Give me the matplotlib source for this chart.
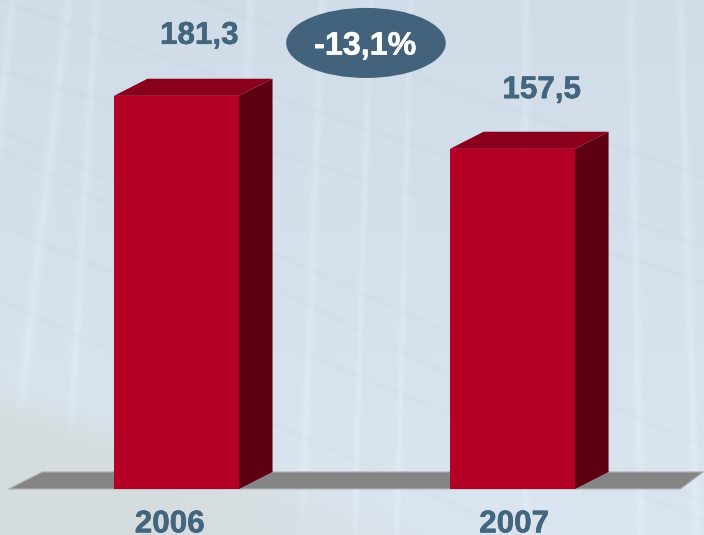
import numpy as np
import matplotlib
matplotlib.use("Agg")
import matplotlib.pyplot as plt
from matplotlib.patches import Polygon, Ellipse
import matplotlib.patheffects as pe

years = ["2006", "2007"]
values = [181.3, 156.85]      # bar heights as drawn, second one sits a bit under its label
value_labels = ["181,3", "157,5"]
change_label = "-13,1%"

plt.rcParams['font.family'] = ['Liberation Sans', 'DejaVu Sans']
plt.rcParams['text.hinting'] = 'no_hinting'

BLUE = '#43657e'
FRONT = '#b50026'
TOP = '#8a001c'
SIDE = '#5c0012'
FLOOR = '#858585'

W, H = 704, 535
fig = plt.figure(figsize=(W/100, H/100), dpi=100)

# background picture: soft bands, pale window lines, grey corner
bg = fig.add_axes([0, 0, 1, 1], zorder=0)
yy, xx = np.mgrid[0:H, 0:W].astype(float)
img = np.zeros((H, W, 3))
img[..., 0] = 208 + 11*yy/H
img[..., 1] = 220 + 9*yy/H
img[..., 2] = 232 + 7*yy/H

pale = [(12, -0.10, 4), (68, -0.118, 5), (96, -0.06, 4), (322, -0.04, 4), (370, -0.03, 3),
        (410, -0.025, 3), (250, -0.04, 4), (630, 0.02, 4), (680, 0.03, 4), (525, 0.0, 4)]
for x0, k, w in pale:
    img += (6*np.exp(-((xx - x0 - k*yy)/w)**2))[..., None]

dark = [(70, 0.3), (130, 0.45), (150, 0.5), (225, 0.42), (300, 0.45), (0, 0.35), (-70, 0.35)]
for y0, k in dark:
    img -= (2.5*np.exp(-((yy - y0 - k*xx)/3)**2))[..., None]

corner = 1/(1 + np.exp(-(yy - 398 - 0.32*xx)/9))
corner *= 1/(1 + np.exp((xx - 330)/70))
img = img*(1 - corner[..., None]) + np.array([213, 220, 222])*corner[..., None]
bg.imshow(np.clip(img, 0, 255).astype(np.uint8), aspect='auto', extent=[0, W, H, 0])
bg.axis('off')

ax = fig.add_axes([0, 0, 1, 1], zorder=1)
ax.patch.set_alpha(0)
ax.set_xlim(-0.525, 1.57)
ax.set_ylim(-21.2, 225.5)
ax.axis('off')

x = np.arange(len(years))
bar_w = 0.372
dx = 0.1
dy = 7.9
bold = dict(color=BLUE, fontsize=22.6, fontweight='bold', ha='center', va='baseline',
            path_effects=[pe.withStroke(linewidth=0.4, foreground=BLUE)])

# grey floor under the bars
floor_l, floor_r = -0.5, 1.5
ax.add_patch(Polygon([(floor_l, 0), (floor_r, 0), (floor_r+0.0685, dy), (floor_l+dx, dy)],
                     facecolor=FLOOR, edgecolor='#b4b8bb', linewidth=0.8, zorder=1))

bars = ax.bar(x, values, bar_w, color=FRONT, zorder=3)
for b, v in zip(bars, values):
    l = b.get_x()
    r = l + b.get_width()
    ax.add_patch(Polygon([(r, 0), (r+dx, dy), (r+dx, v+dy), (r, v)],
                         facecolor=SIDE, edgecolor='none', zorder=2))
    ax.add_patch(Polygon([(l, v), (l+dx, v+dy), (r+dx, v+dy), (r, v)],
                         facecolor=TOP, edgecolor='none', zorder=2))

ax.text(x[0]+0.068, values[0]+24, value_labels[0], **bold)
ax.text(x[1]+0.087, values[1]+23.4, value_labels[1], **bold)

ax.text(x[0]-0.02, -20.0, years[0], **bold)
ax.text(x[1]+0.005, -20.0, years[1], **bold)

ax.add_patch(Ellipse((0.564, 205.7), 0.475, 32.3, facecolor='#42637b', edgecolor='none', zorder=4))
ax.text(0.562, 205.7, change_label, color='white', fontsize=23.2, fontweight='bold', ha='center',
        va='center_baseline', zorder=5, path_effects=[pe.withStroke(linewidth=0.4, foreground='white')])

fig.savefig("out.png", dpi=100)
